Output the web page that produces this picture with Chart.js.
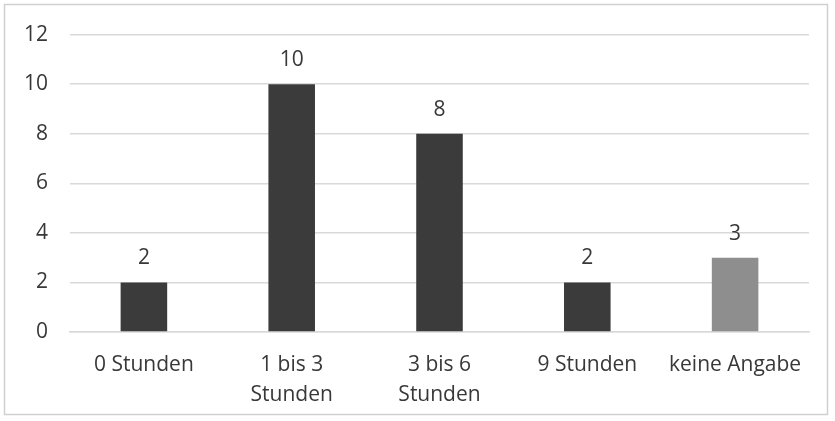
<!DOCTYPE html>
<html>
<head>
<meta charset="utf-8">
<script src="https://cdn.jsdelivr.net/npm/chart.js@4"></script>
<style>
  html, body { margin: 0; padding: 0; background: #fff; }
  #wrap { width: 835px; height: 421px; position: relative; }
</style>
</head>
<body>
<div id="wrap"><canvas id="c" width="835" height="421"></canvas></div>
<script>
const categories = [['0 Stunden'], ['1 bis 3', 'Stunden'], ['3 bis 6', 'Stunden'], ['9 Stunden'], ['keine Angabe']];
const values = [2, 10, 8, 2, 3];
const barColors = ['#3b3b3b', '#3b3b3b', '#3b3b3b', '#3b3b3b', '#8e8e8e'];
const yTicks = [0, 2, 4, 6, 8, 10, 12];

const FONT = 'Open Sans';
const TEXT = '#383838';

// Frame around the whole figure
const framePlugin = {
  id: 'frame',
  beforeDraw(chart) {
    const ctx = chart.ctx;
    ctx.save();
    ctx.fillStyle = '#fff';
    ctx.fillRect(0, 0, chart.width, chart.height);
    ctx.strokeStyle = '#d0d0d0';
    ctx.lineWidth = 1.5;
    ctx.strokeRect(4.5, 4.5, 823, 410);
    ctx.restore();
  }
};

// Value labels above each bar
const valueLabels = {
  id: 'valueLabels',
  afterDatasetsDraw(chart) {
    const ctx = chart.ctx;
    const meta = chart.getDatasetMeta(0);
    ctx.save();
    ctx.font = '21px "' + FONT + '"';
    ctx.fillStyle = TEXT;
    ctx.textAlign = 'center';
    ctx.textBaseline = 'middle';
    meta.data.forEach((bar, i) => {
      ctx.fillText(String(values[i]), bar.x, bar.y - 24);
    });
    ctx.restore();
  }
};

new Chart(document.getElementById('c'), {
  type: 'bar',
  data: {
    labels: categories,
    datasets: [{
      data: values,
      backgroundColor: barColors,
      borderWidth: 0,
      categoryPercentage: 1,
      barPercentage: 0.315
    }]
  },
  options: {
    responsive: false,
    animation: false,
    devicePixelRatio: 1,
    layout: { padding: { left: 0, right: 26, top: 33, bottom: 0 } },
    plugins: { legend: { display: false }, tooltip: { enabled: false } },
    scales: {
      x: {
        grid: { display: false, drawTicks: false },
        border: { display: true, color: '#d9d9d9', width: 1.5 },
        ticks: {
          color: TEXT,
          font: { family: FONT, size: 21, lineHeight: 1.42 },
          padding: 18,
          maxRotation: 0,
          autoSkip: false
        },
        afterFit(scale) { scale.height = 421 - 332; }
      },
      y: {
        min: 0,
        max: 12,
        afterBuildTicks(scale) { scale.ticks = yTicks.map(v => ({ value: v })); },
        grid: { color: '#d9d9d9', lineWidth: 1.5, drawTicks: false },
        border: { display: false },
        ticks: {
          color: TEXT,
          font: { family: FONT, size: 21 },
          padding: 22
        },
        afterFit(scale) { scale.width = 70; }
      }
    }
  },
  plugins: [framePlugin, valueLabels]
});
</script>
</body>
</html>
